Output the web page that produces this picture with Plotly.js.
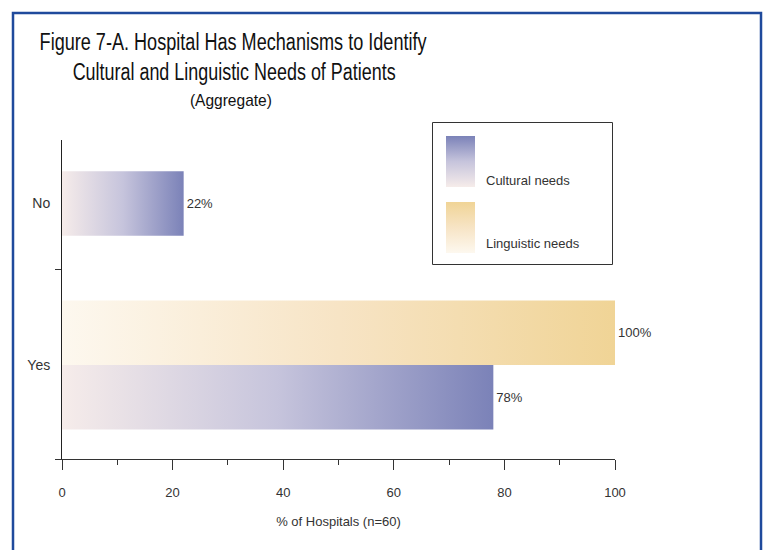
<!DOCTYPE html>
<html>
<head>
<meta charset="utf-8">
<script src="https://cdn.plot.ly/plotly-3.0.1.min.js"></script>
<style>
html,body{margin:0;padding:0;background:#fff;}
#chart{width:763px;height:550px;}
</style>
</head>
<body>
<div id="chart"></div>
<script>
// ---- data ----
const categories = ['No', 'Yes'];
const categoryPos = [1, 0];
const culturalNeeds = [22, 78];
const linguisticNeeds = [null, 100];
const seriesNames = ['Cultural needs', 'Linguistic needs'];
const xTickVals = [0, 20, 40, 60, 80, 100];
const titleLines = [
  'Figure 7-A. Hospital Has Mechanisms to Identify',
  'Cultural and Linguistic Needs of Patients',
  '(Aggregate)'
];

const SANS = "'Liberation Sans', Arial, Helvetica, sans-serif";

// layout geometry (pixels)
const W = 763, H = 550;
const M = {l: 62, r: 148, t: 140, b: 91};
const PW = W - M.l - M.r, PH = H - M.t - M.b;
const px = p => (p - M.l) / PW;
const py = p => (H - M.b - p) / PH;

const barW = 0.4;

// title line placement: [center x, center y, font size, target width]
const titleGeom = [
  [233.5, 42, 23, 387],
  [233.5, 72, 23, 323],
  [231, 101, 17, 82]
];

const traces = [
  {
    type: 'bar', orientation: 'h', name: seriesNames[0],
    x: culturalNeeds, y: categoryPos,
    width: barW, offset: [-barW / 2, -barW],
    marker: {color: '#a9abcf', line: {width: 0}},
    text: culturalNeeds.map(v => v === null ? '' : v + '%'),
    textposition: 'outside', cliponaxis: false, constraintext: 'none',
    textfont: {family: SANS, size: 13, color: '#333'},
    hoverinfo: 'skip'
  },
  {
    type: 'bar', orientation: 'h', name: seriesNames[1],
    x: linguisticNeeds, y: categoryPos,
    width: barW, offset: 0,
    marker: {color: '#f5e3bf', line: {width: 0}},
    text: linguisticNeeds.map(v => v === null ? '' : v + '%'),
    textposition: 'outside', cliponaxis: false, constraintext: 'none',
    textfont: {family: SANS, size: 13, color: '#333'},
    hoverinfo: 'skip'
  }
];

const annotations = titleLines.map((t, i) => ({
  text: t, xref: 'paper', yref: 'paper',
  x: px(titleGeom[i][0]), y: py(titleGeom[i][1]),
  xanchor: 'center', yanchor: 'middle', showarrow: false,
  font: {family: SANS, size: titleGeom[i][2], color: '#111'}
}));
annotations.push(
  {text: seriesNames[0], xref: 'paper', yref: 'paper', x: px(484), y: py(180), xanchor: 'left', yanchor: 'middle',
   showarrow: false, font: {family: SANS, size: 13, color: '#333'}},
  {text: seriesNames[1], xref: 'paper', yref: 'paper', x: px(484), y: py(243), xanchor: 'left', yanchor: 'middle',
   showarrow: false, font: {family: SANS, size: 13, color: '#333'}}
);

const layout = {
  width: W, height: H,
  margin: M,
  paper_bgcolor: '#fff', plot_bgcolor: '#fff',
  showlegend: false,
  barmode: 'overlay',
  xaxis: {
    range: [0, 100], fixedrange: true,
    tickvals: xTickVals, ticktext: xTickVals.map(String),
    ticks: 'outside', ticklen: 10, tickwidth: 1, tickcolor: '#333',
    minor: {tickvals: [10, 30, 50, 70, 90], ticks: 'outside', ticklen: 5, tickwidth: 1, tickcolor: '#333'},
    showline: true, linecolor: '#333', linewidth: 1,
    showgrid: false, zeroline: false,
    tickfont: {family: SANS, size: 13, color: '#333'},
    ticklabelstandoff: 11,
    title: {text: '% of Hospitals (n=60)', font: {family: SANS, size: 13, color: '#333'}, standoff: 18}
  },
  yaxis: {
    range: [-0.582, 1.393], fixedrange: true,
    tickvals: categoryPos, ticktext: categories,
    ticks: '', ticklabelstandoff: 8,
    minor: {tickvals: [-0.582, 0.594], ticks: 'outside', ticklen: 6, tickwidth: 1, tickcolor: '#333'},
    showline: true, linecolor: '#222', linewidth: 1,
    showgrid: false, zeroline: false,
    tickfont: {family: SANS, size: 14, color: '#333'}
  },
  shapes: [
    // outer frame
    {type: 'rect', xref: 'paper', yref: 'paper', x0: px(13), x1: px(761), y0: py(580), y1: py(13),
     line: {color: '#1f4a9c', width: 2.5}, fillcolor: 'rgba(0,0,0,0)', layer: 'below'},
    // legend box
    {type: 'rect', xref: 'paper', yref: 'paper', x0: px(432.5), x1: px(612.5), y0: py(264.5), y1: py(122.5),
     line: {color: '#333', width: 1}, fillcolor: '#fff', layer: 'above'},
    // legend swatch: cultural
    {type: 'rect', xref: 'paper', yref: 'paper', x0: px(446), x1: px(475), y0: py(187), y1: py(136),
     line: {width: 0}, fillcolor: '#a9abcf', layer: 'above'},
    // legend swatch: linguistic
    {type: 'rect', xref: 'paper', yref: 'paper', x0: px(446), x1: px(475), y0: py(253), y1: py(202),
     line: {width: 0}, fillcolor: '#f5e3bf', layer: 'above'}
  ],
  annotations: annotations
};

function finish(gd) {
  const svg = gd.querySelector('svg.main-svg');
  const NS = 'http://www.w3.org/2000/svg';
  let defs = svg.querySelector('defs');
  if (!defs) { defs = document.createElementNS(NS, 'defs'); svg.insertBefore(defs, svg.firstChild); }
  function grad(id, vertical, stops) {
    const g = document.createElementNS(NS, 'linearGradient');
    g.setAttribute('id', id);
    g.setAttribute('x1', '0'); g.setAttribute('y1', vertical ? '1' : '0');
    g.setAttribute('x2', vertical ? '0' : '1'); g.setAttribute('y2', '0');
    stops.forEach(s => {
      const st = document.createElementNS(NS, 'stop');
      st.setAttribute('offset', s[0]); st.setAttribute('stop-color', s[1]);
      g.appendChild(st);
    });
    defs.appendChild(g);
  }
  const cStops = [[0, '#f6ecea'], [0.5, '#c6c4dc'], [1, '#7b82b8']];
  const lStops = [[0, '#fdf8ef'], [0.5, '#f7e4c5'], [1, '#f0d496']];
  grad('gradCult', false, cStops);
  grad('gradLing', false, lStops);
  grad('gradCultV', true, cStops);
  grad('gradLingV', true, lStops);

  const fills = ['url(#gradCult)', 'url(#gradLing)'];
  gd.querySelectorAll('.barlayer .trace').forEach((t, i) => {
    t.querySelectorAll('.point path').forEach(p => { p.style.fill = fills[i]; });
  });
  gd.querySelectorAll('.shapelayer path').forEach(p => {
    const idx = p.getAttribute('data-index');
    if (idx === '2') p.style.fill = 'url(#gradCultV)';
    if (idx === '3') p.style.fill = 'url(#gradLingV)';
  });

  // condense title lines horizontally (the original uses a narrow typeface)
  gd.querySelectorAll('.annotation-text').forEach(el => {
    const i = titleLines.indexOf(el.textContent);
    if (i >= 0) {
      el.setAttribute('textLength', titleGeom[i][3]);
      el.setAttribute('lengthAdjust', 'spacingAndGlyphs');
    }
  });
}

const gd = document.getElementById('chart');
Plotly.newPlot(gd, traces, layout, {staticPlot: true, displayModeBar: false}).then(finish);
</script>
</body>
</html>
